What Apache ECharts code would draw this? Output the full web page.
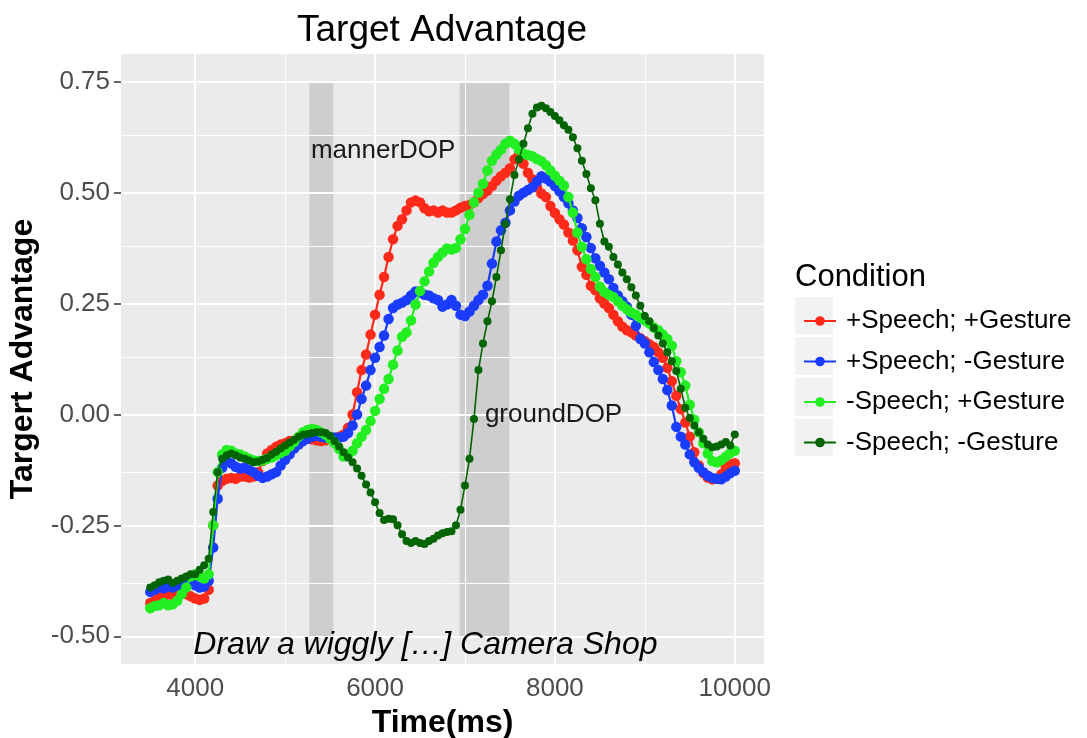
<!DOCTYPE html>
<html>
<head>
<meta charset="utf-8">
<script src="https://cdn.jsdelivr.net/npm/echarts@6/dist/echarts.min.js"></script>
<style>
html,body{margin:0;padding:0;background:#fff;}
#chart{width:1087px;height:738px;}
</style>
</head>
<body>
<div id="chart"></div>
<script>
const times = [3500,3550,3600,3650,3700,3750,3800,3850,3900,3950,
4000,4050,4100,4150,4200,4250,4300,4350,4400,4450,
4500,4550,4600,4650,4700,4750,4800,4850,4900,4950,
5000,5050,5100,5150,5200,5250,5300,5350,5400,5450,
5500,5550,5600,5650,5700,5750,5800,5850,5900,5950,
6000,6050,6100,6150,6200,6250,6300,6350,6400,6450,
6500,6550,6600,6650,6700,6750,6800,6850,6900,6950,
7000,7050,7100,7150,7200,7250,7300,7350,7400,7450,
7500,7550,7600,7650,7700,7750,7800,7850,7900,7950,
8000,8050,8100,8150,8200,8250,8300,8350,8400,8450,
8500,8550,8600,8650,8700,8750,8800,8850,8900,8950,
9000,9050,9100,9150,9200,9250,9300,9350,9400,9450,
9500,9550,9600,9650,9700,9750,9800,9850,9900,9950,
10000];

const speechGesture = [-0.425,-0.42,-0.412,-0.41,-0.405,-0.408,-0.402,-0.4,-0.405,-0.41,
-0.415,-0.418,-0.415,-0.395,-0.25,-0.16,-0.15,-0.145,-0.143,-0.145,
-0.14,-0.14,-0.142,-0.14,-0.13,-0.105,-0.088,-0.08,-0.073,-0.068,
-0.065,-0.06,-0.06,-0.058,-0.057,-0.055,-0.056,-0.058,-0.06,-0.058,
-0.055,-0.055,-0.05,-0.045,-0.03,0.0,0.05,0.1,0.135,0.18,
0.225,0.27,0.31,0.355,0.395,0.425,0.44,0.46,0.478,0.482,
0.478,0.465,0.458,0.46,0.455,0.46,0.455,0.455,0.46,0.466,
0.47,0.472,0.478,0.488,0.497,0.505,0.515,0.527,0.537,0.545,
0.555,0.575,0.585,0.565,0.545,0.53,0.512,0.498,0.49,0.47,
0.454,0.44,0.428,0.41,0.392,0.37,0.333,0.315,0.29,0.28,
0.262,0.25,0.24,0.225,0.21,0.198,0.19,0.185,0.178,0.172,
0.165,0.158,0.152,0.14,0.128,0.105,0.075,0.042,0.012,-0.018,
-0.05,-0.085,-0.115,-0.132,-0.142,-0.146,-0.145,-0.135,-0.118,-0.112,
-0.11];

const speechNoGesture = [-0.4,-0.395,-0.39,-0.392,-0.388,-0.39,-0.385,-0.39,-0.385,-0.38,
-0.385,-0.39,-0.388,-0.375,-0.3,-0.19,-0.12,-0.105,-0.11,-0.118,
-0.122,-0.12,-0.125,-0.13,-0.138,-0.143,-0.14,-0.135,-0.13,-0.115,
-0.102,-0.09,-0.077,-0.068,-0.06,-0.055,-0.05,-0.048,-0.05,-0.052,
-0.053,-0.052,-0.052,-0.05,-0.042,-0.025,0.0,0.035,0.065,0.1,
0.128,0.152,0.178,0.215,0.24,0.248,0.252,0.258,0.268,0.277,
0.275,0.27,0.268,0.262,0.258,0.243,0.248,0.258,0.245,0.225,
0.222,0.232,0.245,0.258,0.27,0.29,0.34,0.39,0.415,0.432,
0.46,0.48,0.493,0.5,0.506,0.512,0.525,0.537,0.532,0.525,
0.515,0.503,0.49,0.476,0.46,0.443,0.42,0.4,0.375,0.352,
0.335,0.32,0.305,0.285,0.268,0.255,0.243,0.225,0.2,0.17,
0.16,0.14,0.118,0.1,0.08,0.055,0.02,-0.028,-0.05,-0.068,
-0.09,-0.108,-0.12,-0.13,-0.138,-0.143,-0.145,-0.146,-0.14,-0.132,
-0.127];

const noSpeechGesture = [-0.437,-0.432,-0.43,-0.425,-0.43,-0.428,-0.42,-0.405,-0.39,-0.365,
-0.36,-0.365,-0.37,-0.36,-0.25,-0.13,-0.09,-0.08,-0.082,-0.088,
-0.09,-0.095,-0.1,-0.104,-0.105,-0.104,-0.1,-0.097,-0.092,-0.087,
-0.082,-0.072,-0.062,-0.05,-0.04,-0.035,-0.032,-0.035,-0.04,-0.046,
-0.055,-0.065,-0.078,-0.095,-0.092,-0.082,-0.065,-0.05,-0.035,-0.015,
0.008,0.035,0.058,0.08,0.112,0.144,0.175,0.185,0.212,0.248,
0.278,0.3,0.322,0.342,0.355,0.365,0.374,0.372,0.375,0.395,
0.418,0.45,0.478,0.5,0.52,0.55,0.572,0.586,0.597,0.61,
0.617,0.61,0.597,0.588,0.585,0.582,0.576,0.571,0.562,0.55,
0.538,0.527,0.516,0.49,0.455,0.41,0.378,0.35,0.328,0.31,
0.288,0.276,0.27,0.265,0.255,0.245,0.237,0.23,0.225,0.218,
0.212,0.205,0.196,0.19,0.18,0.17,0.155,0.12,0.095,0.065,
0.022,-0.012,-0.04,-0.065,-0.088,-0.105,-0.108,-0.103,-0.095,-0.087,
-0.082];

const noSpeechNoGesture = [-0.39,-0.385,-0.378,-0.375,-0.372,-0.38,-0.375,-0.37,-0.365,-0.36,
-0.36,-0.35,-0.34,-0.325,-0.22,-0.13,-0.1,-0.092,-0.088,-0.092,
-0.097,-0.1,-0.104,-0.108,-0.106,-0.102,-0.098,-0.09,-0.084,-0.077,
-0.07,-0.063,-0.057,-0.05,-0.046,-0.044,-0.042,-0.04,-0.04,-0.042,
-0.048,-0.06,-0.072,-0.085,-0.097,-0.108,-0.122,-0.138,-0.158,-0.176,
-0.198,-0.222,-0.238,-0.235,-0.236,-0.25,-0.27,-0.285,-0.29,-0.285,
-0.29,-0.292,-0.285,-0.28,-0.273,-0.268,-0.265,-0.263,-0.25,-0.215,
-0.16,-0.1,-0.01,0.1,0.16,0.21,0.255,0.31,0.37,0.43,
0.485,0.54,0.575,0.61,0.645,0.678,0.692,0.696,0.69,0.682,
0.673,0.663,0.652,0.642,0.625,0.6,0.572,0.542,0.51,0.483,
0.43,0.39,0.378,0.355,0.338,0.32,0.305,0.287,0.268,0.245,
0.222,0.21,0.195,0.178,0.16,0.14,0.12,0.098,0.058,0.015,
-0.008,-0.025,-0.04,-0.055,-0.068,-0.074,-0.072,-0.068,-0.062,-0.07,
-0.045];

const seriesNames = ['+Speech; +Gesture', '+Speech; -Gesture', '-Speech; +Gesture', '-Speech; -Gesture'];
const seriesValues = [speechGesture, speechNoGesture, noSpeechGesture, noSpeechNoGesture];
const xTicks = [4000, 6000, 8000, 10000];
const xMinor = [5000, 7000, 9000];
const yTicks = [-0.5, -0.25, 0, 0.25, 0.5, 0.75];
const yMinor = [-0.375, -0.125, 0.125, 0.375, 0.625];
const dopStart = [5270, 6940];
const dopEnd = [5535, 7495];
const dopLow = -0.5, dopHigh = 0.75;
const annoTexts = ['mannerDOP', 'groundDOP', 'Draw a wiggly […] Camera Shop'];
const annoX = [6090, 7985, 6560];
const annoY = [0.595, 0.0, -0.52];

const FONT = 'Liberation Sans, Arial, Helvetica, sans-serif';
const colors = ['#FF2A1A', '#1A3CFF', '#22EE22', '#006400'];
const symSizes = [10.5, 10.5, 10.5, 8];
const lineWidths = [2.2, 2.2, 2.2, 1.6];

const chart = echarts.init(document.getElementById('chart'), null, {renderer: 'canvas'});

const gridLines = [];
xTicks.forEach(v => gridLines.push({xAxis: v, lineStyle: {width: 2}}));
xMinor.forEach(v => gridLines.push({xAxis: v, lineStyle: {width: 1}}));
yTicks.forEach(v => gridLines.push({yAxis: v, lineStyle: {width: 2}}));
yMinor.forEach(v => gridLines.push({yAxis: v, lineStyle: {width: 1}}));

const dataSeries = seriesNames.map((name, k) => ({
  name: name,
  type: 'line',
  data: times.map((t, i) => [t, seriesValues[k][i]]),
  symbol: 'circle',
  symbolSize: symSizes[k],
  showSymbol: true,
  lineStyle: {color: colors[k], width: lineWidths[k]},
  itemStyle: {color: colors[k]},
  z: 10 + k,
  silent: true
}));

const option = {
  animation: false,
  backgroundColor: '#ffffff',
  grid: {left: 121, top: 54, width: 643, height: 610, show: true, backgroundColor: '#EBEBEB', borderWidth: 0,
         containLabel: false, outerBoundsMode: 'none'},
  xAxis: {
    type: 'value', min: 3175, max: 10325,
    axisLine: {show: false},
    axisTick: {show: true, customValues: xTicks, length: 7, lineStyle: {color: '#333333', width: 1.5}},
    axisLabel: {customValues: xTicks, formatter: v => String(v), fontSize: 26, color: '#4D4D4D', fontFamily: FONT, margin: 12},
    splitLine: {show: false},
    name: 'Time(ms)', nameLocation: 'middle', nameGap: 42,
    nameTextStyle: {fontSize: 32, fontWeight: 'bold', color: '#000', fontFamily: FONT}
  },
  yAxis: {
    type: 'value', min: -0.5625, max: 0.8125,
    axisLine: {show: false},
    axisTick: {show: true, customValues: yTicks, length: 7, lineStyle: {color: '#333333', width: 1.5}},
    axisLabel: {customValues: yTicks, formatter: v => v.toFixed(2), fontSize: 26, color: '#4D4D4D', fontFamily: FONT, margin: 11},
    splitLine: {show: false},
    name: 'Targert Advantage', nameLocation: 'middle', nameGap: 82, nameRotate: 90,
    nameTextStyle: {fontSize: 32, fontWeight: 'bold', color: '#000', fontFamily: FONT}
  },
  legend: {
    data: seriesNames, orient: 'vertical', left: 798, top: 301,
    itemWidth: 32, itemHeight: 12, itemGap: 10.5,
    textStyle: {fontSize: 26, color: '#000', fontFamily: FONT, lineHeight: 30, padding: [0, 0, 0, 5]},
    selectedMode: false
  },
  graphic: [
    {type: 'text', x: 442, y: 31, style: {text: 'Target Advantage', fontSize: 37, fontFamily: FONT, fill: '#000', textAlign: 'center', textVerticalAlign: 'middle'}},
    {type: 'text', x: 795, y: 277, style: {text: 'Condition', fontSize: 31, fontFamily: FONT, fill: '#000', textAlign: 'left', textVerticalAlign: 'middle'}},
    {type: 'rect', shape: {x: 795, y: 297, width: 38, height: 37}, style: {fill: '#F2F2F2'}},
    {type: 'rect', shape: {x: 795, y: 337, width: 38, height: 38}, style: {fill: '#F2F2F2'}},
    {type: 'rect', shape: {x: 795, y: 378, width: 38, height: 38}, style: {fill: '#F2F2F2'}},
    {type: 'rect', shape: {x: 795, y: 419, width: 38, height: 37}, style: {fill: '#F2F2F2'}}
  ],
  series: [
    {
      name: 'gridlines', type: 'line', data: [], z: 1, silent: true,
      markLine: {silent: true, symbol: ['none', 'none'], label: {show: false},
        lineStyle: {color: '#FFFFFF', type: 'solid', width: 1}, data: gridLines}
    },
    {
      name: 'dop', type: 'line', data: [], z: 2, silent: true,
      markArea: {silent: true, itemStyle: {color: 'rgba(0,0,0,0.12)'},
        data: dopStart.map((s, i) => [{xAxis: s, yAxis: dopLow}, {xAxis: dopEnd[i], yAxis: dopHigh}])}
    },
    ...dataSeries,
    {
      name: 'annotations', type: 'line', data: [], z: 20, silent: true,
      markPoint: {silent: true, symbol: 'rect', symbolSize: 1, itemStyle: {color: 'rgba(0,0,0,0)'},
        label: {show: true, position: 'inside', formatter: '{b}', fontSize: 26, color: '#1A1A1A', fontFamily: FONT},
        data: annoTexts.map((txt, i) => ({
          name: txt, coord: [annoX[i], annoY[i]],
          label: i === 2 ? {fontStyle: 'italic', fontSize: 32, color: '#000'} : {}
        }))}
    }
  ]
};
chart.setOption(option);
</script>
</body>
</html>
